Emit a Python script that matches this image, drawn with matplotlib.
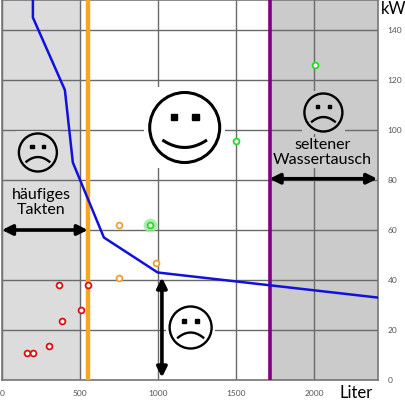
import matplotlib.pyplot as plt
import matplotlib.patches as mpatches
from matplotlib.transforms import ScaledTranslation
import numpy as np

# blue characteristic curve (Liter -> kW)
curve_x = [198, 198, 403, 454, 653, 998, 2405]
curve_y = [160, 145, 116, 87, 57, 43, 33]

# measured points
red_x = [160, 200, 302, 384, 505, 364, 553]
red_y = [10.8, 10.8, 13.6, 23.6, 28, 38, 38]
orange_x = [750, 987, 750]
orange_y = [62, 47, 40.8]
green_x = [951, 1498, 2003]
green_y = [62, 95.6, 126]

# limits
lower_limit = 550
upper_limit = 1715
x_ticks = [0, 500, 1000, 1500, 2000]
y_ticks = [0, 20, 40, 60, 80, 100, 120, 140]

plt.rcParams['font.family'] = ['Lato', 'DejaVu Sans']

fig = plt.figure(figsize=(4.06, 4.00), dpi=100)
ax = fig.add_axes([2 / 406, 20 / 400, 376 / 406, 380 / 400])
ax.set_xlim(0, 2410)
ax.set_ylim(0, 152)

light_gray = '#dcdcdc'
dark_gray = '#cbcbcb'
ax.axvspan(0, 500, color=light_gray, zorder=0)
ax.axvspan(upper_limit, 2410, color=dark_gray, zorder=0)

ax.set_xticks(x_ticks)
ax.set_yticks(y_ticks)
ax.grid(True, color='#6a6a6a', linewidth=1.0, zorder=1)
ax.tick_params(length=0, labelsize=6, colors='#555555', pad=7)
ax.yaxis.tick_right()
for s in ax.spines.values():
    s.set_color('#777777')
    s.set_linewidth(1.2)

ax.axvline(lower_limit, color='#f5a623', linewidth=3.2, zorder=3)
ax.axvline(upper_limit, color='#800080', linewidth=2.6, zorder=3)

ax.plot(curve_x, curve_y, color='#1010e0', linewidth=1.8, zorder=4)

ax.plot(red_x, red_y, 'o', ms=4.2, mfc='white', mec='#dd1010', mew=1.3, zorder=5)
ax.plot(orange_x, orange_y, 'o', ms=4.2, mfc='white', mec='#f0a030', mew=1.3, zorder=5)
ax.plot(green_x[:1], green_y[:1], 'o', ms=10, mfc='#9ee89e', mec='none', alpha=0.8, zorder=5)
ax.plot(green_x, green_y, 'o', ms=4.2, mfc='white', mec='#22dd22', mew=1.3, zorder=6)


def face(x, y, r, bg, happy=False):
    # r in pixels, centred at data point (x, y)
    tr = fig.dpi_scale_trans + ScaledTranslation(x, y, ax.transData)
    r = r / 100
    lw = 2.2 if happy else 1.7
    ax.add_patch(mpatches.Rectangle((-r * 1.15, -r * 1.15), 2.3 * r, 2.3 * r,
                                    facecolor=bg, edgecolor='none', transform=tr, zorder=6))
    ax.add_patch(mpatches.Circle((0, 0), r, facecolor=bg, edgecolor='black',
                                 linewidth=lw, transform=tr, zorder=7))
    e = r * 0.18
    for ex in (-0.31 * r, 0.31 * r):
        ax.add_patch(mpatches.Rectangle((ex - e / 2, 0.31 * r - e / 2), e, e,
                                        color='black', transform=tr, zorder=8))
    mx = np.linspace(-0.6, 0.6, 40)
    if happy:
        my = -0.57 + 0.19 * (mx / 0.6) ** 2
    else:
        my = -0.24 - 0.24 * (mx / 0.6) ** 2
    ax.plot(mx * r, my * r, color='black', lw=lw, transform=tr, zorder=8)


face(1171, 101, 35, 'white', happy=True)
face(230, 91, 19, light_gray)
face(2060, 107, 19, dark_gray)
face(1209, 21, 21, 'white')

ax.text(250, 71, 'häufiges\nTakten', ha='center', va='center', fontsize=11.5,
        linespacing=1.1, zorder=9)
ax.text(2054, 91, 'seltener\nWassertausch', ha='center', va='center', fontsize=11.5,
        linespacing=1.1, zorder=9,
        bbox=dict(facecolor=dark_gray, edgecolor='none', pad=0.5))

arrow = dict(arrowstyle='<|-|>', color='black', lw=2.6, mutation_scale=15, shrinkA=0, shrinkB=0)
ax.annotate('', xy=(0, 60), xytext=(lower_limit, 60), arrowprops=arrow, zorder=9)
ax.annotate('', xy=(upper_limit, 80.5), xytext=(2405, 80.5), arrowprops=arrow, zorder=9)
ax.annotate('', xy=(1025, 41), xytext=(1025, 1), arrowprops=arrow, zorder=9)

fig.text(394 / 406, 1 - 9 / 400, 'kW', ha='center', va='center', fontsize=12)
fig.text(356 / 406, 1 - 393 / 400, 'Liter', ha='center', va='center', fontsize=12)

fig.savefig('out.png', dpi=100)
